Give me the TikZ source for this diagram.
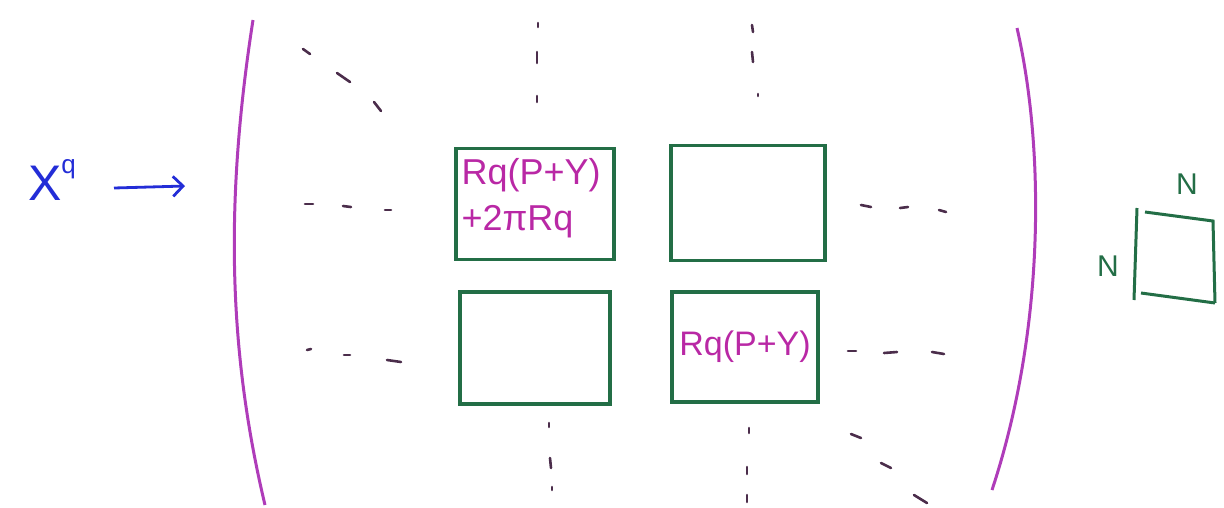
\documentclass[tikz,border=0pt]{standalone}
\usepackage{fontspec}
\setmainfont{Liberation Sans}
\usetikzlibrary{arrows.meta}
\definecolor{boxgreen}{RGB}{35,110,70}
\definecolor{txtmag}{RGB}{185,40,165}
\definecolor{parenmag}{RGB}{175,60,185}
\definecolor{inkblue}{RGB}{35,45,215}
\definecolor{dotink}{RGB}{75,45,75}
\begin{document}
\begin{tikzpicture}[x=1pt,y=-1pt,
  gbox/.style={draw=boxgreen,line width=3.2pt,inner sep=0pt},
  boxtxt/.style={text=txtmag,font=\fontsize{36}{46}\selectfont,align=left,inner sep=0pt},
  paren/.style={draw=parenmag,line width=3pt},
  tickmark/.style={draw=dotink,line width=2.6pt,line cap=round},
  nlab/.style={text=boxgreen,font=\fontsize{30}{32}\selectfont}]
\useasboundingbox (0,0) rectangle (1224,507);
% X^q and arrow
\node[text=inkblue,font=\fontsize{50}{52}\selectfont,anchor=center,inner sep=0pt] (xq) at (52,180) {X\raisebox{0.55em}{\fontsize{26}{28}\selectfont q}};
\coordinate (arrowend) at (185,186);
\draw[draw=inkblue,line width=2.8pt,-{Straight Barb[length=10pt,width=20pt]}] (114,188) -- (arrowend);
% parentheses
\draw[paren] (253,20) .. controls (225,200) and (228,350) .. (265,505);
\draw[paren] (1017,28) .. controls (1045,150) and (1045,330) .. (992,490);
% boxes
\node[gbox,minimum width=158pt,minimum height=111pt] (b11) at (535,204) {};
\node[gbox,minimum width=154pt,minimum height=115pt] (b12) at (748,203) {};
\node[gbox,minimum width=150pt,minimum height=112pt] (b21) at (535,348) {};
\node[gbox,minimum width=146pt,minimum height=110pt] (b22) at (745,347) {};
\node[boxtxt,anchor=north west] at (b11.north west) [xshift=7pt,yshift=-11pt] {Rq(P+Y)\\+2πRq};
\node[boxtxt,font=\fontsize{34}{40}\selectfont] at (b22.center) {Rq(P+Y)};
% dashes upper-left diagonal
\draw[tickmark] (303,49) -- (310,54);
\draw[tickmark] (337,73) -- (350,82);
\draw[tickmark] (374,102) -- (381,111);
% left middle row
\draw[tickmark] (305,204) -- (313,204);
\draw[tickmark] (343,206) -- (351,207);
\draw[tickmark] (385,210) -- (391,210);
% left lower row
\draw[tickmark] (307,350) -- (311,349);
\draw[tickmark] (344,355) -- (350,355);
\draw[tickmark] (387,360) -- (401,362);
% top vertical dots
\draw[tickmark] (538,23) -- (538,27);
\draw[tickmark] (537,52) -- (537,63);
\draw[tickmark] (537,96) -- (537,102);
\draw[tickmark] (752,25) -- (753,32);
\draw[tickmark] (752,52) -- (753,62);
\draw[tickmark] (758,94) -- (758,96);
% bottom vertical dots
\draw[tickmark] (549,423) -- (549,427);
\draw[tickmark] (550,458) -- (551,468);
\draw[tickmark] (552,487) -- (552,490);
\draw[tickmark] (749,428) -- (749,433);
\draw[tickmark] (747,467) -- (747,474);
\draw[tickmark] (747,495) -- (747,502);
% right middle row
\draw[tickmark] (861,205) -- (871,207);
\draw[tickmark] (900,208) -- (908,207);
\draw[tickmark] (939,210) -- (946,212);
% right lower row
\draw[tickmark] (848,351) -- (856,351);
\draw[tickmark] (884,353) -- (897,352);
\draw[tickmark] (932,352) -- (944,354);
% lower right diagonal
\draw[tickmark] (851,434) -- (861,438);
\draw[tickmark] (881,463) -- (891,468);
\draw[tickmark] (914,495) -- (927,503);
% small N x N box
\coordinate (sa) at (1137,208);
\coordinate (sb) at (1134,300);
\draw[draw=boxgreen,line width=3pt] (sa) -- (sb);
\draw[draw=boxgreen,line width=3pt] (1145,212) -- (1213,221) -- (1215,303);
\draw[draw=boxgreen,line width=3pt] (1141,293) -- (1215,303);
\node[nlab] (ntop) at (1187,184) {N};
\node[nlab] (nleft) at (1108,266) {N};
\end{tikzpicture}
\end{document}
